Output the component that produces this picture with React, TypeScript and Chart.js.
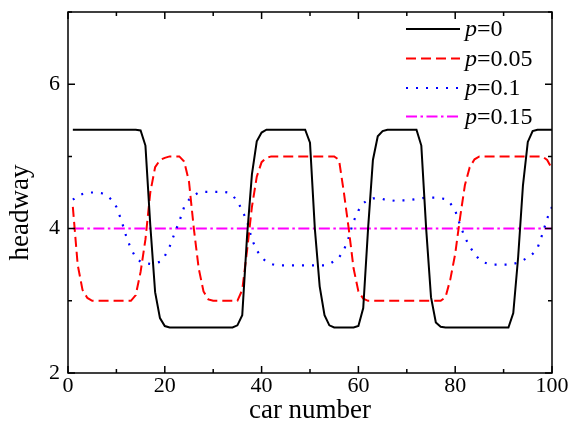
import React, { useEffect, useRef } from "react";
import { Chart, registerables } from "chart.js";

Chart.register(...registerables);

const carNumbers = [
  1, 2, 3, 4, 5, 6, 7, 8, 9, 10,
  11, 12, 13, 14, 15, 16, 17, 18, 19, 20,
  21, 22, 23, 24, 25, 26, 27, 28, 29, 30,
  31, 32, 33, 34, 35, 36, 37, 38, 39, 40,
  41, 42, 43, 44, 45, 46, 47, 48, 49, 50,
  51, 52, 53, 54, 55, 56, 57, 58, 59, 60,
  61, 62, 63, 64, 65, 66, 67, 68, 69, 70,
  71, 72, 73, 74, 75, 76, 77, 78, 79, 80,
  81, 82, 83, 84, 85, 86, 87, 88, 89, 90,
  91, 92, 93, 94, 95, 96, 97, 98, 99, 100,
];

const headwayP0 = [
  5.37, 5.37, 5.37, 5.37, 5.37, 5.37, 5.37, 5.37, 5.37, 5.37,
  5.37, 5.37, 5.37, 5.37, 5.36, 5.15, 4.05, 3.12, 2.76, 2.65,
  2.63, 2.63, 2.63, 2.63, 2.63, 2.63, 2.63, 2.63, 2.63, 2.63,
  2.63, 2.63, 2.63, 2.63, 2.66, 2.8, 3.9, 4.75, 5.21, 5.33,
  5.37, 5.37, 5.37, 5.37, 5.37, 5.37, 5.37, 5.37, 5.37, 5.19,
  4.0, 3.2, 2.8, 2.66, 2.63, 2.63, 2.63, 2.63, 2.63, 2.65,
  2.9, 4.0, 4.95, 5.28, 5.35, 5.37, 5.37, 5.37, 5.37, 5.37,
  5.37, 5.37, 5.15, 4.0, 3.05, 2.7, 2.64, 2.63, 2.63, 2.63,
  2.63, 2.63, 2.63, 2.63, 2.63, 2.63, 2.63, 2.63, 2.63, 2.63,
  2.63, 2.83, 3.6, 4.6, 5.2, 5.35, 5.37, 5.37, 5.37, 5.37,
];

const headwayP005 = [
  4.3, 3.5, 3.15, 3.04, 3.0, 3.0, 3.0, 3.0, 3.0, 3.0,
  3.0, 3.0, 3.0, 3.08, 3.4, 3.85, 4.5, 4.85, 4.95, 4.98,
  5.0, 5.0, 5.0, 4.93, 4.65, 4.0, 3.45, 3.13, 3.02, 3.0,
  3.0, 3.0, 3.0, 3.0, 3.0, 3.15, 3.7, 4.3, 4.72, 4.92,
  4.98, 5.0, 5.0, 5.0, 5.0, 5.0, 5.0, 5.0, 5.0, 5.0,
  5.0, 5.0, 5.0, 5.0, 5.0, 4.95, 4.5, 4.0, 3.45, 3.13,
  3.03, 3.0, 3.0, 3.0, 3.0, 3.0, 3.0, 3.0, 3.0, 3.0,
  3.0, 3.0, 3.0, 3.0, 3.0, 3.0, 3.0, 3.05, 3.3, 3.65,
  4.15, 4.6, 4.85, 4.96, 5.0, 5.0, 5.0, 5.0, 5.0, 5.0,
  5.0, 5.0, 5.0, 5.0, 5.0, 5.0, 5.0, 5.0, 4.95, 4.83,
];

const headwayP01 = [
  4.4, 4.45, 4.48, 4.5, 4.5, 4.5, 4.49, 4.46, 4.4, 4.3,
  4.12, 3.9, 3.72, 3.6, 3.54, 3.52, 3.51, 3.52, 3.54, 3.62,
  3.75, 3.93, 4.1, 4.3, 4.4, 4.46, 4.5, 4.51, 4.51, 4.51,
  4.51, 4.51, 4.5, 4.46, 4.38, 4.25, 4.1, 3.85, 3.7, 3.6,
  3.54, 3.51, 3.49, 3.49, 3.49, 3.49, 3.49, 3.49, 3.49, 3.49,
  3.49, 3.49, 3.49, 3.51, 3.55, 3.6, 3.7, 3.88, 4.1, 4.25,
  4.35, 4.4, 4.42, 4.42, 4.41, 4.39, 4.39, 4.38, 4.39, 4.39,
  4.4, 4.41, 4.42, 4.43, 4.43, 4.43, 4.42, 4.41, 4.35, 4.25,
  4.05, 3.88, 3.75, 3.65, 3.57, 3.53, 3.51, 3.5, 3.5, 3.5,
  3.5, 3.51, 3.53, 3.56, 3.6, 3.65, 3.73, 3.92, 4.14, 4.3,
];

const headwayP015 = [
  4, 4, 4, 4, 4, 4, 4, 4, 4, 4,
  4, 4, 4, 4, 4, 4, 4, 4, 4, 4,
  4, 4, 4, 4, 4, 4, 4, 4, 4, 4,
  4, 4, 4, 4, 4, 4, 4, 4, 4, 4,
  4, 4, 4, 4, 4, 4, 4, 4, 4, 4,
  4, 4, 4, 4, 4, 4, 4, 4, 4, 4,
  4, 4, 4, 4, 4, 4, 4, 4, 4, 4,
  4, 4, 4, 4, 4, 4, 4, 4, 4, 4,
  4, 4, 4, 4, 4, 4, 4, 4, 4, 4,
  4, 4, 4, 4, 4, 4, 4, 4, 4, 4,
];

const seriesLabels = ["0", "0.05", "0.1", "0.15"];
const xMajorTicks = [0, 20, 40, 60, 80, 100];
const xMinorTicks = [10, 30, 50, 70, 90];
const yMajorTicks = [2, 4, 6];
const yMinorTicks = [3, 5, 7];
const xTitle = "car number";
const yTitle = "headway";

const FONT = '"Liberation Serif", "Times New Roman", serif';

const framePlugin = {
  id: "frameTicks",
  afterDatasetsDraw(chart: any) {
    const { ctx, chartArea: a, scales } = chart;
    const x = scales.x;
    const y = scales.y;
    ctx.save();
    ctx.strokeStyle = "#000";
    ctx.lineWidth = 1.5;
    ctx.strokeRect(a.left, a.top, a.right - a.left, a.bottom - a.top);
    ctx.beginPath();
    const tickX = (v: number, len: number) => {
      const px = x.getPixelForValue(v);
      ctx.moveTo(px, a.bottom);
      ctx.lineTo(px, a.bottom - len);
      ctx.moveTo(px, a.top);
      ctx.lineTo(px, a.top + len);
    };
    const tickY = (v: number, len: number) => {
      const py = y.getPixelForValue(v);
      ctx.moveTo(a.left, py);
      ctx.lineTo(a.left + len, py);
      ctx.moveTo(a.right, py);
      ctx.lineTo(a.right - len, py);
    };
    xMajorTicks.forEach((v) => tickX(v, 7));
    xMinorTicks.forEach((v) => tickX(v, 4));
    yMajorTicks.forEach((v) => tickY(v, 7));
    yMinorTicks.forEach((v) => tickY(v, 4));
    ctx.stroke();

    // y axis title
    ctx.fillStyle = "#000";
    ctx.font = `27px ${FONT}`;
    ctx.textAlign = "center";
    ctx.textBaseline = "middle";
    ctx.translate(21, (a.top + a.bottom) / 2 + 20);
    ctx.rotate(-Math.PI / 2);
    ctx.fillText(yTitle, 0, 0);
    ctx.restore();

    // legend
    ctx.save();
    const rowYs = [17, 46.5, 76, 104.5];
    chart.data.datasets.forEach((ds: any, i: number) => {
      const ry = a.top + rowYs[i];
      const x0 = a.right - 146;
      const x1 = a.right - 92;
      ctx.beginPath();
      ctx.strokeStyle = ds.borderColor;
      ctx.lineWidth = ds.borderWidth;
      ctx.setLineDash(ds.borderDash || []);
      ctx.lineCap = ds.borderCapStyle || "butt";
      ctx.moveTo(x0, ry);
      ctx.lineTo(x1, ry);
      ctx.stroke();
      ctx.setLineDash([]);
      ctx.fillStyle = "#000";
      ctx.textAlign = "left";
      ctx.textBaseline = "middle";
      const tx = a.right - 87;
      ctx.font = `italic 24px ${FONT}`;
      ctx.fillText("p", tx, ry + 1);
      const pw = ctx.measureText("p").width;
      ctx.font = `24px ${FONT}`;
      ctx.fillText("=" + seriesLabels[i], tx + pw, ry + 1);
    });
    ctx.restore();
  },
};

export default function App() {
  const canvasRef = useRef<HTMLCanvasElement | null>(null);

  useEffect(() => {
    const canvas = canvasRef.current;
    if (!canvas) return;
    const mk = (vals: number[]) => carNumbers.map((c, i) => ({ x: c, y: vals[i] }));
    const chart = new Chart(canvas, {
      type: "line",
      data: {
        datasets: [
          {
            label: "p=" + seriesLabels[0],
            data: mk(headwayP0),
            borderColor: "#000000",
            borderWidth: 2,
            pointRadius: 0,
            tension: 0,
            fill: false,
          },
          {
            label: "p=" + seriesLabels[1],
            data: mk(headwayP005),
            borderColor: "#ff0000",
            borderWidth: 2,
            borderDash: [10, 5],
            pointRadius: 0,
            tension: 0,
            fill: false,
          },
          {
            label: "p=" + seriesLabels[2],
            data: mk(headwayP01),
            borderColor: "#0000ff",
            borderWidth: 2.2,
            borderDash: [2, 8],
            pointRadius: 0,
            tension: 0,
            fill: false,
          },
          {
            label: "p=" + seriesLabels[3],
            data: mk(headwayP015),
            borderColor: "#ff00ff",
            borderWidth: 2,
            borderDash: [11, 3.5, 2.5, 3.5],
            pointRadius: 0,
            tension: 0,
            fill: false,
          },
        ],
      },
      options: {
        animation: false,
        responsive: false,
        devicePixelRatio: 1,
        layout: { padding: { top: 12, right: 19, left: 0, bottom: 0 } },
        plugins: {
          legend: { display: false },
          tooltip: { enabled: false },
        },
        scales: {
          x: {
            type: "linear",
            min: 0,
            max: 100,
            grid: { display: false, drawTicks: false },
            border: { display: false },
            afterBuildTicks: (s: any) => {
              s.ticks = xMajorTicks.map((v) => ({ value: v }));
            },
            afterFit: (s: any) => {
              s.height = 60;
              s.paddingLeft = 0;
              s.paddingRight = 0;
            },
            ticks: {
              color: "#000",
              font: { family: FONT, size: 22 },
              padding: 0,
              maxRotation: 0,
              autoSkip: false,
            },
            title: {
              display: true,
              text: xTitle,
              color: "#000",
              font: { family: FONT, size: 27 },
              padding: { top: 0, bottom: 6 },
            },
          },
          y: {
            type: "linear",
            min: 2,
            max: 7,
            grid: { display: false, drawTicks: false },
            border: { display: false },
            afterBuildTicks: (s: any) => {
              s.ticks = yMajorTicks.map((v) => ({ value: v }));
            },
            afterFit: (s: any) => {
              s.width = 68;
              s.paddingTop = 0;
              s.paddingBottom = 0;
            },
            ticks: {
              color: "#000",
              font: { family: FONT, size: 22 },
              padding: 8,
              autoSkip: false,
            },
          },
        },
      },
      plugins: [framePlugin],
    } as any);
    return () => chart.destroy();
  }, []);

  return (
    <div style={{ position: "absolute", left: 0, top: 0, width: 571, height: 433, background: "#fff" }}>
      <canvas ref={canvasRef} width={571} height={433} style={{ display: "block" }} />
    </div>
  );
}
